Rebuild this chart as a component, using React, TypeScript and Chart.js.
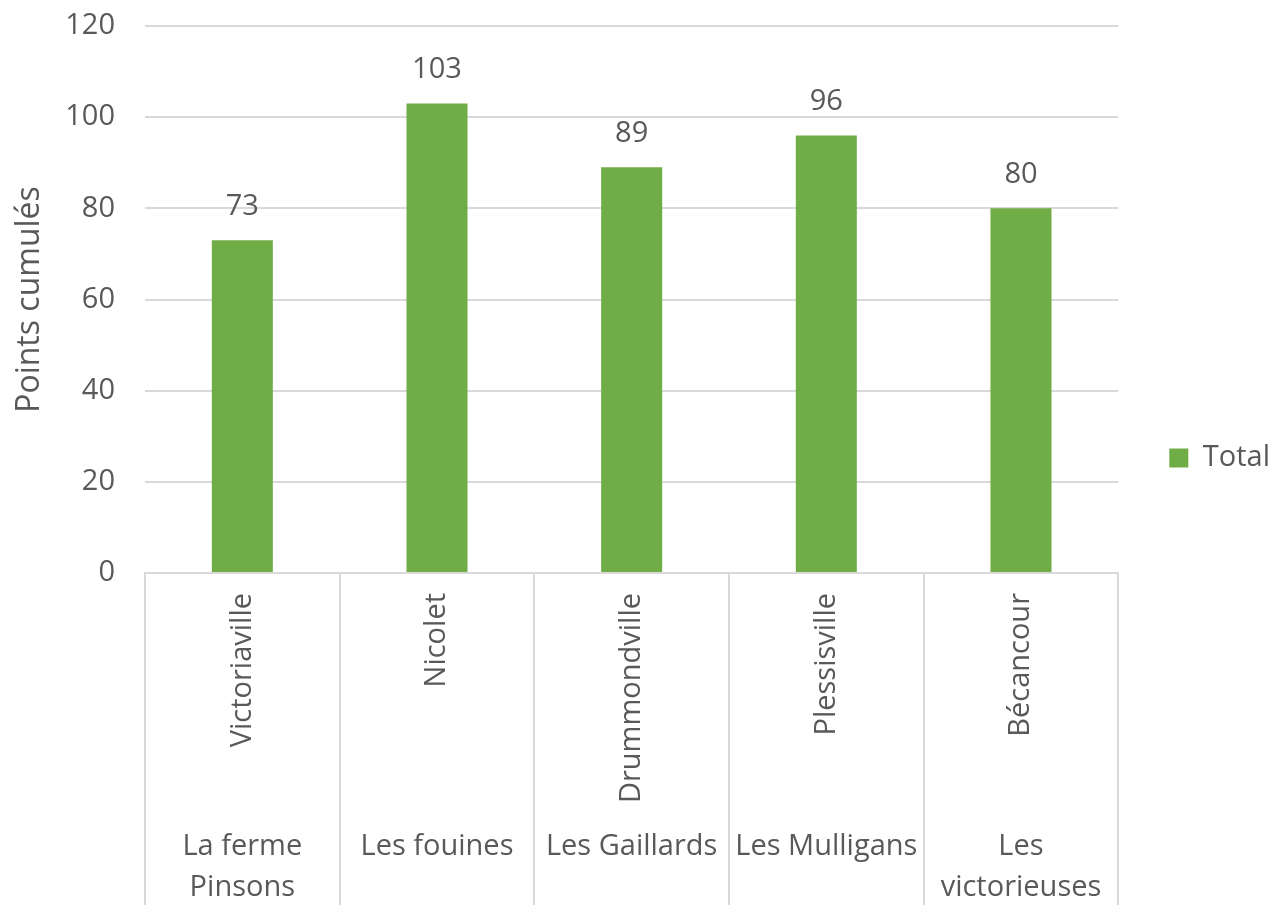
import React, { useEffect, useRef } from 'react';
import { Chart, registerables } from 'chart.js';

Chart.register(...registerables);

// ---- data ----
const cities = ['Victoriaville', 'Nicolet', 'Drummondville', 'Plessisville', 'Bécancour'];
const teams = [['La ferme', 'Pinsons'], ['Les fouines'], ['Les Gaillards'], ['Les Mulligans'], ['Les', 'victorieuses']];
const totals = [73, 103, 89, 96, 80];
const yTicks = [0, 20, 40, 60, 80, 100, 120];
const seriesName = 'Total';
const yTitle = 'Points cumulés';

// ---- style ----
const FONT = "'Open Sans'";
const TEXT = '#595959';
const GRID = '#D9D9D9';
const GREEN = '#70AD47';

const groupLines = {
  id: 'groupLines',
  afterDraw(chart: any) {
    const { ctx, chartArea, height } = chart;
    const xs = chart.scales.x;
    const n = cities.length;
    const half = (xs.getPixelForValue(1) - xs.getPixelForValue(0)) / 2;
    ctx.save();
    ctx.strokeStyle = GRID;
    ctx.lineWidth = 2;
    for (let i = 0; i <= n; i++) {
      const x = i < n ? xs.getPixelForValue(i) - half : xs.getPixelForValue(n - 1) + half;
      ctx.beginPath();
      ctx.moveTo(Math.round(x), chartArea.bottom);
      ctx.lineTo(Math.round(x), height);
      ctx.stroke();
    }
    ctx.restore();
  },
};

const valueLabels = {
  id: 'valueLabels',
  afterDatasetsDraw(chart: any) {
    const { ctx } = chart;
    const meta = chart.getDatasetMeta(0);
    ctx.save();
    ctx.fillStyle = TEXT;
    ctx.font = `29px ${FONT}`;
    ctx.textAlign = 'center';
    ctx.textBaseline = 'alphabetic';
    meta.data.forEach((bar: any, i: number) => {
      ctx.fillText(String(totals[i]), bar.x, bar.y - 25);
    });
    ctx.restore();
  },
};

export default function App() {
  const ref = useRef<HTMLCanvasElement | null>(null);

  useEffect(() => {
    if (!ref.current) return;
    const chart = new Chart(ref.current, {
      type: 'bar',
      data: {
        labels: cities,
        datasets: [
          {
            label: seriesName,
            data: totals,
            backgroundColor: GREEN,
            borderWidth: 0,
            barPercentage: 0.3135,
            categoryPercentage: 1,
            xAxisID: 'x',
          },
        ],
      },
      plugins: [groupLines, valueLabels],
      options: {
        responsive: false,
        animation: false,
        devicePixelRatio: 1,
        layout: { padding: { top: 0, bottom: -11, left: 0, right: -3 } },
        plugins: {
          legend: {
            position: 'right',
            align: 'center',
            labels: {
              boxWidth: 19,
              boxHeight: 19,
              padding: 51,
              color: TEXT,
              font: { family: FONT, size: 29 },
            },
          },
          tooltip: { enabled: false },
        },
        scales: {
          x: {
            type: 'category',
            position: 'bottom',
            weight: 0,
            offset: true,
            grid: { display: false, drawTicks: false },
            border: { display: true, color: GRID, width: 2 },
            ticks: {
              autoSkip: false,
              minRotation: 90,
              maxRotation: 90,
              padding: 20,
              color: TEXT,
              font: { family: FONT, size: 29 },
            },
            afterFit: (s: any) => {
              s.height = 240;
            },
          },
          x2: {
            type: 'category',
            labels: teams as any,
            position: 'bottom',
            weight: 1,
            offset: true,
            grid: { display: false, drawTicks: false },
            border: { display: false },
            ticks: {
              autoSkip: false,
              minRotation: 0,
              maxRotation: 0,
              padding: 13,
              color: TEXT,
              font: { family: FONT, size: 29, lineHeight: 1.42 },
            },
            afterFit: (s: any) => {
              s.height = 103;
            },
          },
          y: {
            min: 0,
            max: 120,
            afterBuildTicks: (s: any) => {
              s.ticks = yTicks.map((v) => ({ value: v }));
            },
            grid: { color: GRID, lineWidth: 2, drawTicks: false },
            border: { display: false },
            ticks: { padding: 30, color: TEXT, font: { family: FONT, size: 29 } },
            title: {
              display: true,
              text: yTitle,
              color: TEXT,
              font: { family: FONT, size: 32 },
              padding: { top: 11, bottom: 0 },
            },
            afterFit: (s: any) => {
              s.width = 145;
              s.paddingTop = 26;
              s.paddingBottom = 0;
            },
          },
        },
      } as any,
    });
    return () => chart.destroy();
  }, []);

  return (
    <canvas
      ref={ref}
      width={1277}
      height={905}
      style={{ position: 'fixed', left: 0, top: 0, width: 1277, height: 905 }}
    />
  );
}
